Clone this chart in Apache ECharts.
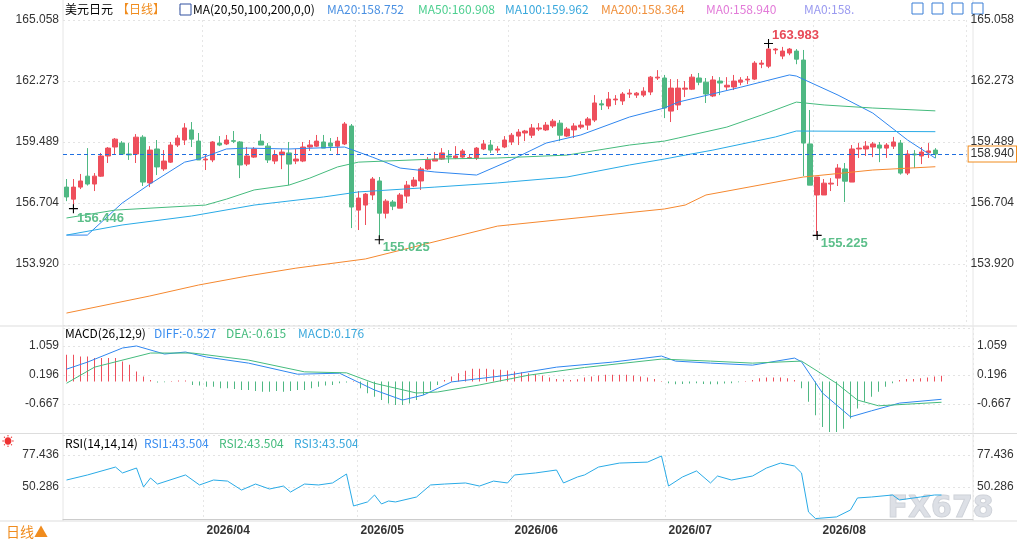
<!DOCTYPE html>
<html><head><meta charset="utf-8">
<script src="https://cdn.jsdelivr.net/npm/echarts@6/dist/echarts.min.js"></script>
<style>html,body{margin:0;padding:0;background:#fff}#c{width:1017px;height:546px}</style>
</head><body><div id="c"></div>
<script>
const opens=[157.43,156.88,157.43,157.93,157.57,157.93,158.85,159.26,159.44,158.94,
158.94,159.71,157.62,159.17,158.26,158.57,159.35,159.58,160.04,159.53,
158.67,158.67,159.44,159.40,159.55,159.49,158.48,158.80,159.53,159.30,
158.62,158.90,158.99,158.62,158.62,159.26,159.30,159.49,159.44,159.30,
159.40,160.22,156.38,156.61,157.07,157.71,156.24,156.75,156.47,157.02,
157.48,157.71,158.26,158.62,158.71,158.85,158.76,158.80,158.74,158.76,
159.17,159.35,159.12,159.26,159.49,159.76,159.90,159.80,160.08,160.04,
160.22,160.35,159.76,160.04,160.17,160.26,160.49,161.23,161.13,161.41,
161.36,161.68,161.63,161.63,161.77,162.41,162.41,160.90,161.18,161.90,
161.90,162.41,162.22,161.59,162.27,162.00,162.00,162.22,162.32,162.36,
163.04,162.95,163.69,163.41,163.55,163.64,163.23,159.40,157.07,157.07,
157.57,157.84,158.26,157.66,159.17,159.17,159.26,159.35,159.21,159.30,
159.44,158.07,158.94,158.85,159.00,159.12];
const closes=[156.98,157.43,157.71,157.57,157.93,158.85,159.21,159.62,158.94,158.90,
159.71,157.66,159.12,158.35,158.62,159.35,159.67,160.13,159.62,158.67,
158.71,159.49,159.35,159.58,159.52,158.44,158.85,159.17,159.35,158.67,
158.90,159.03,158.48,158.71,159.26,159.35,159.53,159.21,159.30,159.53,
160.31,156.52,156.93,157.11,157.80,156.24,156.79,156.56,157.07,157.52,
157.75,158.26,158.67,158.71,158.99,158.80,158.85,159.08,158.78,159.21,
159.40,159.12,159.17,159.58,159.80,159.94,159.99,160.13,160.13,160.26,
160.44,159.80,160.08,160.22,160.26,160.54,161.27,161.18,161.45,161.45,
161.68,161.72,161.72,161.81,162.45,162.45,161.04,161.95,161.95,161.95,
162.45,162.22,161.68,162.32,162.18,162.08,162.27,162.32,162.36,163.09,
163.09,163.73,163.73,163.64,163.73,163.27,159.44,157.52,157.89,157.61,
157.61,158.30,157.70,159.17,159.21,159.30,159.40,159.21,159.35,159.49,
158.07,158.94,158.90,159.03,159.08,158.94];
const lows=[156.79,156.446,157.34,157.50,157.25,157.90,158.53,158.94,158.90,158.67,
158.53,157.48,157.43,157.98,158.17,158.53,159.26,159.35,159.26,158.67,
158.21,158.57,159.30,159.35,159.44,157.84,158.39,158.76,159.35,158.53,
158.48,158.25,157.52,158.48,158.57,159.08,159.26,159.21,159.08,158.89,
159.35,155.56,155.47,155.70,156.84,155.025,156.00,156.38,156.47,156.70,
157.43,157.30,158.21,158.62,158.67,158.53,158.71,158.76,158.71,158.67,
159.12,158.99,158.99,159.21,159.35,159.35,159.53,159.67,159.99,159.99,
160.13,159.53,159.72,159.67,160.08,160.04,160.40,160.95,160.99,161.18,
161.18,161.50,161.50,161.54,161.63,162.32,160.58,160.40,160.95,161.54,
161.86,162.08,161.27,161.54,161.63,161.86,161.86,162.08,162.13,162.32,
162.86,162.86,163.50,163.27,163.45,163.04,157.93,157.52,155.225,157.07,
157.25,157.48,156.75,157.66,158.76,158.85,158.80,158.57,158.76,159.17,
158.00,157.98,158.30,158.48,158.76,158.76];
const highs=[157.80,157.80,158.03,159.21,158.07,158.99,159.26,159.67,159.53,159.44,
159.85,159.80,159.30,159.58,159.12,159.49,159.80,160.35,160.40,159.90,
158.94,159.53,159.76,159.81,159.99,159.53,159.26,159.26,159.85,159.44,
159.12,159.17,159.49,159.17,159.49,159.58,159.81,159.81,159.67,159.72,
160.40,160.31,157.25,157.16,157.89,157.89,156.88,156.84,157.16,157.71,
157.89,158.35,158.80,159.03,159.21,159.12,159.30,159.17,158.94,159.26,
159.58,159.58,159.30,159.76,159.90,160.08,160.04,160.31,160.35,160.40,
160.54,160.49,160.17,160.35,160.44,160.63,161.63,161.41,161.77,161.63,
161.77,161.90,161.77,161.99,162.50,162.77,162.55,162.36,162.36,162.27,
162.59,162.64,162.41,162.50,162.45,162.45,162.55,162.45,162.50,163.18,
163.23,163.983,163.78,163.83,163.78,163.73,163.69,160.95,157.89,157.80,
157.84,158.48,158.53,159.35,159.44,159.53,159.49,159.49,159.44,159.72,
159.58,159.12,159.12,159.26,159.44,159.21];
// moving averages read at [candle index, value]
const ma20=[[0,155.24],[3,155.24],[8,156.70],[12,157.57],[17,158.57],[19,158.71],[23,159.17],[26,159.21],[32,159.17],[40,159.26],[44,158.80],[48,158.30],[53,158.12],[59,157.98],[64,158.67],[69,159.44],[74,159.81],[81,160.63],[86,161.04],[88,161.31],[97,161.99],[104,162.55],[105,162.50],[111,161.63],[116,160.81],[121,159.58],[125,158.75]];
const ma50=[[0,156.02],[7,156.38],[20,156.61],[23,156.88],[27,157.30],[32,157.52],[35,157.84],[39,158.35],[42,158.57],[53,158.71],[62,158.76],[72,158.89],[81,159.35],[86,159.53],[88,159.67],[95,160.17],[100,160.72],[105,161.31],[109,161.18],[116,161.04],[125,160.91]];
const ma100=[[0,155.24],[8,155.70],[18,156.11],[27,156.61],[37,156.98],[42,157.21],[53,157.43],[62,157.62],[72,157.89],[81,158.44],[86,158.71],[89,158.89],[93,159.12],[102,159.72],[105,159.99],[125,159.96]];
const ma200=[[0,151.68],[12,152.46],[19,152.96],[26,153.37],[33,153.73],[43,154.15],[62,155.65],[86,156.43],[89,156.61],[92,157.07],[106,157.89],[116,158.21],[125,158.36]];
const diff=[[0,0.37],[3,0.58],[8,1.00],[10,1.06],[14,0.82],[17,0.88],[20,0.73],[26,0.55],[33,0.22],[39,0.25],[44,-0.25],[48,-0.55],[51,-0.40],[55,-0.01],[63,0.19],[70,0.43],[78,0.58],[85,0.76],[87,0.61],[92,0.55],[98,0.49],[104,0.70],[105,0.59],[108,-0.34],[112,-1.05],[115,-0.87],[119,-0.64],[125,-0.527]];
const dea=[[0,-0.05],[4,0.43],[12,0.85],[18,0.85],[26,0.64],[34,0.29],[40,0.26],[44,-0.05],[50,-0.34],[53,-0.31],[59,-0.10],[66,0.19],[74,0.42],[85,0.67],[92,0.61],[98,0.55],[105,0.61],[110,-0.05],[113,-0.55],[116,-0.72],[125,-0.615]];
const macdHist=[0.8,0.8,0.75,0.75,0.7,0.7,0.7,0.7,0.6,0.5,
0.3,0.15,0.05,-0.03,-0.02,0.02,0.03,0.03,-0.1,-0.12,
-0.15,-0.15,-0.2,-0.2,-0.22,-0.25,-0.25,-0.28,-0.3,-0.3,
-0.28,-0.3,-0.28,-0.25,-0.25,-0.2,-0.15,-0.12,-0.1,-0.05,
-0.03,0.02,-0.2,-0.35,-0.45,-0.55,-0.65,-0.7,-0.7,-0.65,
-0.55,-0.4,-0.25,-0.1,0.05,0.15,0.25,0.32,0.38,0.38,
0.38,0.36,0.35,0.33,0.3,0.28,0.25,0.22,0.18,0.12,
0.08,0.06,0.05,0.07,0.12,0.15,0.18,0.2,0.2,0.2,
0.2,0.18,0.15,0.12,0.08,0.02,-0.05,-0.08,-0.07,-0.06,
-0.05,-0.07,-0.08,-0.08,-0.06,-0.05,-0.02,0.02,0.05,0.1,
0.12,0.12,0.12,0.1,0.05,-0.2,-0.6,-1.0,-1.35,-1.5,
-1.5,-1.4,-1.1,-0.8,-0.6,-0.45,-0.3,-0.15,-0.05,0.05,
0.08,0.08,0.1,0.12,0.15,0.176];
const rsi=[[0,56.2],[3,60.5],[7,67.2],[8,62.2],[10,66.4],[11,50.3],[12,57.9],[13,52.8],[17,60.5],[19,52.0],[21,56.2],[23,55.3],[25,47.7],[27,52.8],[29,48.6],[31,51.1],[32,46.0],[34,52.8],[36,52.0],[38,53.7],[40,61.3],[41,34.2],[43,37.6],[44,43.5],[45,35.9],[46,38.4],[47,37.6],[50,41.8],[52,52.0],[54,52.8],[57,53.7],[59,51.1],[61,55.3],[63,53.7],[64,60.5],[67,62.2],[70,64.7],[71,53.7],[73,58.8],[74,60.5],[76,67.2],[79,70.6],[83,71.4],[85,76.6],[86,51.1],[88,58.8],[90,63.9],[92,53.7],[93,59.6],[95,56.2],[98,59.6],[100,66.4],[102,70.6],[104,68.1],[105,62.2],[106,29.1],[107,23.5],[110,24.9],[112,30.8],[113,41.0],[115,41.8],[118,43.5],[119,39.3],[122,41.8],[124,43.5],[125,43.5]];
const monthIdx=[20,42,64,86,108];
const monthLabels=['2026/04','2026/05','2026/06','2026/07','2026/08'];
const priceTicks=['165.058','162.273','159.489','156.704','153.920'];
const macdTicks=['1.059','0.196','-0.667'];
const rsiTicks=['77.436','50.286'];
const lastPrice=158.940;

const N=opens.length, PAD=4;
const cats=[];for(let i=0;i<N+PAD;i++)cats.push(String(i));
const candle=opens.map((o,i)=>[o,closes[i],lows[i],highs[i]]);
const UP='#ee4f5c', DN='#4fb883';
const pick=(arr)=>(v)=>{for(const s of arr){if(Math.abs(parseFloat(s)-v)<0.01)return s;}return '';};
const xa=(g,show)=>({type:'category',gridIndex:g,data:cats,boundaryGap:true,
 axisLine:{show:show,lineStyle:{color:'#ccc'}},axisTick:{show:false},
 axisLabel:{show:show,interval:(i)=>monthIdx.includes(i),formatter:(v,i)=>{const k=monthIdx.indexOf(+v);return k>=0?monthLabels[k]:'';},align:'left',color:'#333',fontWeight:'bold',fontSize:12,margin:6},
 splitLine:{show:true,interval:(i)=>monthIdx.includes(i),lineStyle:{type:[2,3],color:'#e6e6e6'}}});
const ya=(g,pos,min,max,intv,ticks,split)=>({type:'value',gridIndex:g,position:pos,min:min,max:max,interval:intv,scale:true,
 axisLine:{show:false},axisTick:{show:false},
 axisLabel:{formatter:pick(ticks),color:'#333',fontSize:12,fontFamily:'Arial, Liberation Sans',margin:4,align:pos==='left'?'right':'left'},
 splitLine:{show:split,lineStyle:{type:[2,3],color:'#e3e3e3'}}});
const cross='path://M0,4.4H10V5.6H0Z M4.4,0H5.6V10H4.4Z';
const mp=(idx,val,txt,col,off)=>({coord:[idx,val],symbol:cross,symbolSize:9,itemStyle:{color:'#000'},
 label:{show:true,formatter:txt,color:col,fontSize:13,fontWeight:'bold',position:'right',distance:1,offset:off}});

const T=(x,y,t,c,extra)=>Object.assign({type:'text',left:x,top:y,style:{text:t,fill:c,font:'12px "Microsoft YaHei","Noto Sans CJK SC",sans-serif'}},extra||{});
const option={animation:false,
 grid:[{left:63,right:44,top:20,height:305},{left:63,right:44,top:328,height:105},{left:63,right:44,top:435,height:84}],
 xAxis:[xa(0,false),xa(1,false),xa(2,true)],
 yAxis:[ya(0,'left',151.1355,165.058,2.7845,priceTicks,true),ya(0,'right',151.1355,165.058,2.7845,priceTicks,false),
  ya(1,'left',-1.53,1.595,0.863,macdTicks,true),ya(1,'right',-1.53,1.595,0.863,macdTicks,false),
  ya(2,'left',23.136,94.4,27.15,rsiTicks,true),ya(2,'right',23.136,94.4,27.15,rsiTicks,false)],
 series:[
  {type:'candlestick',xAxisIndex:0,yAxisIndex:0,data:candle,barWidth:5,
   itemStyle:{color:UP,color0:DN,borderColor:UP,borderColor0:DN,borderWidth:1},
   markLine:{symbol:'none',silent:true,data:[{yAxis:lastPrice}],lineStyle:{color:'#1f6fe0',type:[4,3],width:1},
    label:{position:'end',formatter:'158.940',color:'#333',fontSize:12,backgroundColor:'#fff',borderColor:'#f08c1e',borderWidth:1,padding:[2,2,1,2],distance:2}},
   markPoint:{data:[mp(101,163.983,'163.983','#e84a58',[-2,-8]),mp(1,156.446,'156.446','#5cbf8a',[-2,10]),
     mp(45,155.025,'155.025','#5cbf8a',[-2,8]),mp(108,155.225,'155.225','#5cbf8a',[-2,8])]}},
  {type:'line',data:ma20,xAxisIndex:0,yAxisIndex:0,symbol:'none',lineStyle:{color:'#2f86ef',width:1}},
  {type:'line',data:ma50,xAxisIndex:0,yAxisIndex:0,symbol:'none',lineStyle:{color:'#45bb7d',width:1}},
  {type:'line',data:ma100,xAxisIndex:0,yAxisIndex:0,symbol:'none',lineStyle:{color:'#29aae6',width:1}},
  {type:'line',data:ma200,xAxisIndex:0,yAxisIndex:0,symbol:'none',lineStyle:{color:'#f5882f',width:1}},
  {type:'bar',data:macdHist.map(v=>({value:v,itemStyle:{color:v>=0?UP:DN}})),xAxisIndex:1,yAxisIndex:2,barWidth:1},
  {type:'line',data:diff,xAxisIndex:1,yAxisIndex:2,symbol:'none',lineStyle:{color:'#2f86ef',width:1}},
  {type:'line',data:dea,xAxisIndex:1,yAxisIndex:2,symbol:'none',lineStyle:{color:'#45bb7d',width:1}},
  {type:'line',data:rsi,xAxisIndex:2,yAxisIndex:4,symbol:'none',lineStyle:{color:'#29aae6',width:1}}
 ],
 graphic:[
  {type:'line',shape:{x1:0,y1:326,x2:1017,y2:326},style:{stroke:'#ddd'}},
  {type:'line',shape:{x1:0,y1:433.5,x2:1017,y2:433.5},style:{stroke:'#ddd'}},
  {type:'line',shape:{x1:63,y1:0,x2:63,y2:521},style:{stroke:'#e6e6e6'}},
  {type:'line',shape:{x1:973,y1:0,x2:973,y2:521},style:{stroke:'#e6e6e6'}},
  {type:'line',shape:{x1:0,y1:521,x2:1017,y2:521},style:{stroke:'#ddd'}},
  T(65,3,'美元日元','#000'),T(117,3,'【日线】','#f08c1e'),T(178,3,'⊖','#aaa'),
  {type:'rect',shape:{x:180,y:4,width:11,height:11},style:{fill:'#fff',stroke:'#3050a0'}},
  T(193,3,'MA(20,50,100,200,0,0)','#000'),T(327,3,'MA20:158.752','#4a90e2'),T(418,3,'MA50:160.908','#4ccf8f'),
  T(505,3,'MA100:159.962','#3aa8dc'),T(601,3,'MA200:158.364','#f0903c'),T(706,3,'MA0:158.940','#e27ad8'),T(804,3,'MA0:158.','#9a9af0'),
  ...[912,932,952,972].map(x=>({type:'rect',shape:{x:x,y:3,width:11,height:11},style:{fill:'#fff',stroke:'#3b7fd6'}})),
  T(65,327,'MACD(26,12,9)','#000'),T(154,327,'DIFF:-0.527','#3b8ef0'),T(226,327,'DEA:-0.615','#45bb7d'),T(298,327,'MACD:0.176','#3aa8dc'),
  T(65,437,'RSI(14,14,14)','#000'),T(144,437,'RSI1:43.504','#3b8ef0'),T(219,437,'RSI2:43.504','#45bb7d'),T(294,437,'RSI3:43.504','#3aa8dc'),
  T(2,435,'☀','#e33'),
  T(6,525,'日线▲','#f08c1e',{style:{text:'日线▲',fill:'#f08c1e',font:'14px "Noto Sans CJK SC",sans-serif'}}),
  {type:'text',left:887,top:494,style:{text:'FX678',fill:'rgba(210,214,222,0.75)',stroke:'rgba(170,175,185,0.6)',lineWidth:1,font:'bold 30px "DejaVu Sans",sans-serif'}}
 ]};
echarts.init(document.getElementById('c')).setOption(option);
</script></body></html>
